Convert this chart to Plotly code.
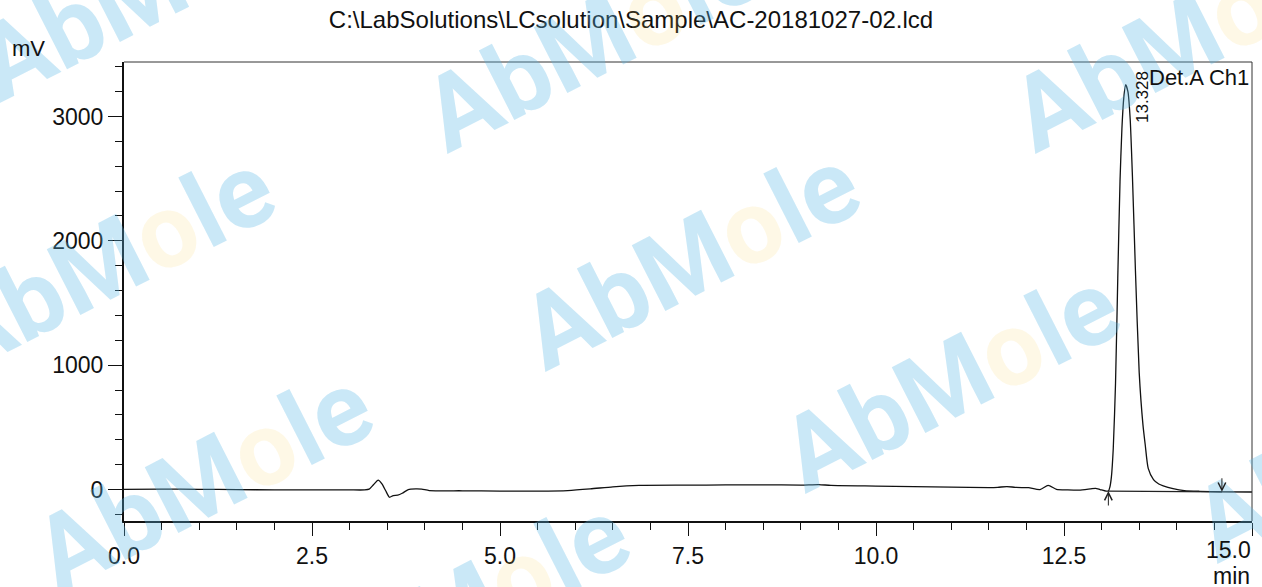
import plotly.graph_objects as go

# ---------------- data ----------------
time_min = [0.00, 0.50, 1.00, 1.50, 2.00, 2.50, 3.00, 3.20, 3.26, 3.32, 3.38, 3.43, 3.48, 3.53,
            3.58, 3.64, 3.70, 3.78, 3.88, 3.96, 4.06, 4.50, 5.00, 5.50, 5.90, 6.20, 6.50, 6.85,
            7.50, 8.00, 8.50, 9.00, 9.24, 9.40, 10.0, 10.5, 11.0, 11.5, 11.62, 11.74, 11.85,
            11.95, 12.03, 12.18, 12.29, 12.40, 12.55, 12.70, 12.85, 12.92, 12.98, 13.06, 13.09,
            13.11, 13.13, 13.155, 13.185, 13.215, 13.245, 13.27, 13.295, 13.32, 13.35, 13.38,
            13.41, 13.45, 13.50, 13.55, 13.58, 13.62, 13.69, 13.76, 13.82, 13.95, 14.10, 14.30,
            14.60, 15.00]
signal_mv = [2, 3, 2, 0, -3, -2, -3, -3, 3, 40, 75, 45, -10, -62,
             -48, -45, -30, 0, 5, 3, -8, -10, -12, -12, -8, 5, 22, 33,
             35, 37, 38, 36, 40, 33, 28, 24, 20, 16, 18, 24, 18,
             16, 15, 0, 33, 2, -3, -5, 5, 10, 0, -13, -12,
             20, 100, 330, 850, 1700, 2480, 2900, 3150, 3255, 3200, 2980,
             2520, 1760, 940, 520, 360, 170, 80, 45, 30, 8, -8, -14,
             -18, -20]

baseline_t = [13.09, 14.60]
baseline_mv = [-12, -18]

peak_time = 13.328
peak_label = "13.328"
peak_height = 3255

x_ticks = [0.0, 2.5, 5.0, 7.5, 10.0, 12.5, 15.0]
x_ticktext = ["0.0", "2.5", "5.0", "7.5", "10.0", "12.5", ""]
y_ticks = [0, 1000, 2000, 3000]
y_ticktext = ["0", "1000", "2000", "3000"]

title_text = r"C:\LabSolutions\LCsolution\Sample\AC-20181027-02.lcd"
channel_text = "Det.A Ch1"

# watermark centres in pixels of the 1262x587 image (decoration)
wm_px = [(145, -10), (592, 40), (1180, 40), (105, 262), (690, 258),
         (203, 480), (950, 380), (460, 608), (1362, 450)]

FONT = "Liberation Sans, Arial, sans-serif"
W, H = 1262, 587
ML, MR, MT, MB = 124, 10, 62, 66

fig = go.Figure()

fig.add_trace(go.Scatter(x=time_min, y=signal_mv, mode="lines",
                         line=dict(color="#111111", width=1.3, shape="spline", smoothing=0.6),
                         hoverinfo="skip", showlegend=False))
fig.add_trace(go.Scatter(x=baseline_t, y=baseline_mv, mode="lines",
                         line=dict(color="#222222", width=1.2),
                         hoverinfo="skip", showlegend=False))

annotations = []

# watermarks
pw = W - ML - MR
ph = H - MT - MB
for (px, py) in wm_px:
    annotations.append(dict(
        xref="paper", yref="paper",
        x=(px - ML) / pw, y=(H - MB - py) / ph,
        xanchor="center", yanchor="middle",
        text="<b>AbM<span style='color:rgba(250,205,80,0.45)'>o</span>le</b>",
        textangle=-27, showarrow=False,
        font=dict(family="Roboto, DejaVu Sans, sans-serif", size=104,
                  color="rgba(90,185,230,0.32)")))

# integration arrows
annotations.append(dict(x=baseline_t[0], y=baseline_mv[0], xref="x", yref="y",
                        ax=0, ay=16, axref="pixel", ayref="pixel",
                        showarrow=True, arrowhead=5, arrowsize=1.5, arrowwidth=1,
                        arrowcolor="#222222", text=""))
annotations.append(dict(x=baseline_t[1], y=baseline_mv[1], xref="x", yref="y",
                        ax=0, ay=-15, axref="pixel", ayref="pixel",
                        showarrow=True, arrowhead=5, arrowsize=1.5, arrowwidth=1,
                        arrowcolor="#222222", text=""))

# peak label
annotations.append(dict(x=peak_time, y=peak_height, xref="x", yref="y",
                        xshift=16, yshift=-12, xanchor="center", yanchor="middle",
                        text=peak_label, textangle=-90, showarrow=False,
                        font=dict(family=FONT, size=17, color="#111111")))

# channel label
annotations.append(dict(x=1, y=1, xref="paper", yref="paper", xanchor="right", yanchor="top",
                        xshift=-1, yshift=-1, text=channel_text, showarrow=False,
                        font=dict(family=FONT, size=22, color="#111111")))

# axis unit labels
annotations.append(dict(x=0, y=1, xref="paper", yref="paper", xanchor="left", yanchor="middle",
                        xshift=-114, yshift=14, text="mV", showarrow=False,
                        font=dict(family=FONT, size=22, color="#111111")))
annotations.append(dict(x=1, y=0, xref="paper", yref="paper", xanchor="right", yanchor="top",
                        xshift=0, yshift=-40, text="min", showarrow=False,
                        font=dict(family=FONT, size=23, color="#111111")))
# last x tick label, kept inside the figure
annotations.append(dict(x=x_ticks[-1], y=0, xref="x", yref="paper", xanchor="right", yanchor="top",
                        xshift=1, yshift=-14, text="15.0", showarrow=False,
                        font=dict(family=FONT, size=23, color="#111111")))

fig.update_layout(
    width=W, height=H,
    margin=dict(l=ML, r=MR, t=MT, b=MB),
    paper_bgcolor="white", plot_bgcolor="white",
    title=dict(text=title_text, x=0.5, xref="container", xanchor="center",
               y=1 - 20 / H, yref="container", yanchor="middle",
               font=dict(family=FONT, size=24, color="#111111")),
    annotations=annotations,
    shapes=[
        dict(type="line", xref="paper", yref="paper", x0=0, x1=1, y0=1, y1=1,
             line=dict(color="#333333", width=1)),
        dict(type="line", xref="paper", yref="paper", x0=1, x1=1, y0=0, y1=1,
             line=dict(color="#333333", width=1)),
    ],
    xaxis=dict(range=[0, 15], tickmode="array", tickvals=x_ticks, ticktext=x_ticktext,
               ticks="outside", ticklen=13, tickwidth=1.2, tickcolor="#111111",
               showline=True, linecolor="#111111", linewidth=2, mirror=False,
               showgrid=False, zeroline=False,
               tickfont=dict(family=FONT, size=23, color="#111111"),
               minor=dict(dtick=0.5, tick0=0, ticks="outside", ticklen=7, tickwidth=1,
                          tickcolor="#111111", showgrid=False)),
    yaxis=dict(range=[-253, 3438], tickmode="array", tickvals=y_ticks, ticktext=y_ticktext,
               ticks="outside", ticklen=14, tickwidth=1.2, tickcolor="#111111",
               showline=True, linecolor="#111111", linewidth=2, mirror=False,
               showgrid=False, zeroline=False,
               tickfont=dict(family=FONT, size=23, color="#111111"),
               minor=dict(dtick=200, tick0=0, ticks="outside", ticklen=7, tickwidth=1,
                          tickcolor="#111111", showgrid=False)),
)

fig.write_html("out.html", config={"displayModeBar": False},
               post_script="document.body.style.margin='0';")
